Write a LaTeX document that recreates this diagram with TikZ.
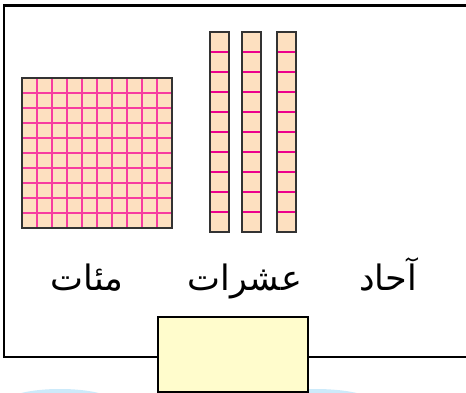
\documentclass[tikz,border=0pt]{standalone}
\usepackage{fontspec}
\newfontfamily\arabicfont[Script=Arabic]{DejaVu Sans}
\TeXXeTstate=1

\definecolor{blockfill}{RGB}{253,224,192}
\definecolor{gridpink}{RGB}{247,60,160}
\definecolor{tickpink}{RGB}{236,0,140}
\definecolor{boxyellow}{RGB}{255,252,204}
\definecolor{shadeblue}{RGB}{204,234,250}

\begin{document}
\begin{tikzpicture}[x=1pt, y=-1pt,
    frameline/.style={draw=black, line width=2.2pt},
    blockline/.style={draw=black!80, line width=1.7pt},
    gridline/.style={draw=gridpink, line width=1.3pt},
    tickline/.style={draw=tickpink, line width=1.7pt},
    placelabel/.style={anchor=base, inner sep=0pt, font=\arabicfont\fontsize{35}{40}\selectfont},
    answerbox/.style={draw=black, line width=2pt, fill=boxyellow}]
  \useasboundingbox (0,0) rectangle (466,393);

  % blue shapes peeking out at the bottom
  \fill[shadeblue] (60,401) ellipse (52 and 12);
  \fill[shadeblue] (315,401) ellipse (56 and 12);

  % frame, open on the right
  \draw[frameline] (466,5.5) -- (4.3,5.5) -- (4.3,357) -- (466,357);

  % hundred: 10 x 10 grid
  \fill[blockfill] (22,78) rectangle (172,228);
  \foreach \k in {1,...,9} {
    \draw[gridline] ({22+15*\k},78) -- ({22+15*\k},228);
    \draw[gridline] (22,{78+15*\k}) -- (172,{78+15*\k});
  }
  \draw[blockline] (22,78) rectangle (172,228);

  % three tens rods
  \foreach \x in {210,242,277} {
    \fill[blockfill] (\x,32) rectangle ++(19,200);
    \foreach \k in {1,...,9}
      \draw[tickline] (\x,{32+20*\k}) -- ++(19,0);
    \draw[blockline] (\x,32) rectangle ++(19,200);
  }

  % place names
  \node[placelabel] (hundreds) at (87,290) {\beginR مئات\endR};
  \node[placelabel] (tens) at (245,290) {\beginR عشرات\endR};
  \node[placelabel] (ones) at (388,290) {\beginR آحاد\endR};

  % empty answer box over the frame
  \draw[answerbox] (158,317) rectangle (308,392);
\end{tikzpicture}
\end{document}
